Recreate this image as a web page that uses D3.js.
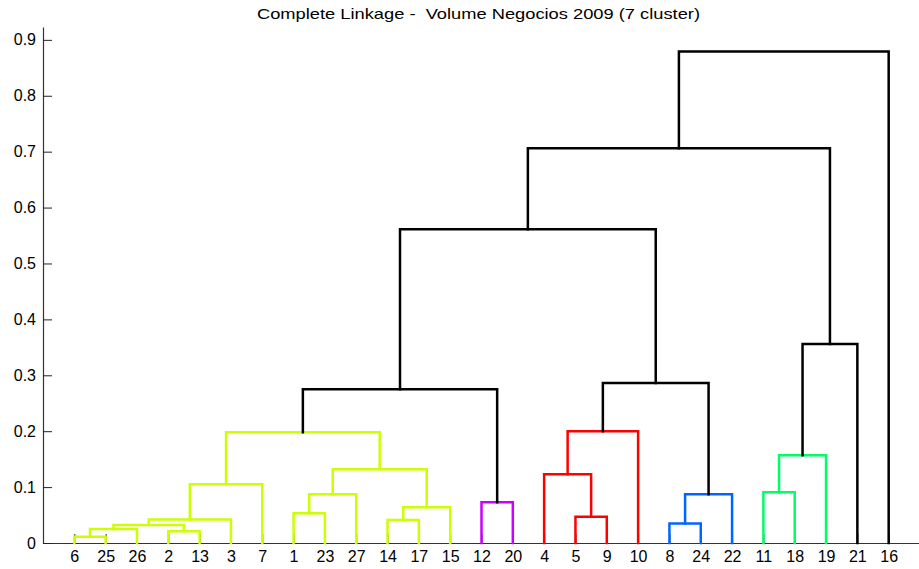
<!DOCTYPE html>
<html>
  <head>
    <meta http-equiv="Content-Type" content="text/html;charset=utf-8" />
    <title>Complete Linkage dendrogram</title>
    <script type="text/javascript" src="https://d3js.org/d3.v7.min.js"></script>
    <style>
      body { margin: 0; background: #fff; }
      text { font-family: "Liberation Sans", Arial, Helvetica, sans-serif; }
    </style>
  </head>
  <body>
    <div id="chart"></div>

    <script type="text/javascript">
      // leaf order along the x axis
      var leafOrder = [6, 25, 26, 2, 13, 3, 7, 1, 23, 27, 14, 17, 15, 12, 20, 4, 5, 9, 10, 8, 24, 22, 11, 18, 19, 21, 16];

      // merges: numbers = leaf labels, "cN" = result of merge N
      var mergeLeft = [6, 2, "c0", "c2", "c3", "c4", 14, 1, "c6", "c7", "c9", "c5", 12, "c11", 5, 4, "c15", 8, "c17", "c16", 11, "c20", "c21", "c13", "c23", "c24"];
      var mergeRight = [25, 13, 26, "c1", 3, 7, 17, 23, 15, 27, "c8", "c10", 20, "c12", 9, "c14", 10, 24, 22, "c18", 18, 19, 21, "c19", "c22", 16];
      var mergeHeight = [0.011, 0.021, 0.025, 0.032, 0.042, 0.105, 0.041, 0.053, 0.064, 0.087, 0.132, 0.198, 0.073, 0.275, 0.047, 0.123, 0.200, 0.035, 0.087, 0.286, 0.091, 0.157, 0.356, 0.561, 0.706, 0.879];
      var mergeGroup = ["a", "a", "a", "a", "a", "a", "a", "a", "a", "a", "a", "a", "b", "k", "c", "c", "c", "d", "d", "k", "e", "e", "k", "k", "k", "k"];

      var yTicks = [0, 0.1, 0.2, 0.3, 0.4, 0.5, 0.6, 0.7, 0.8, 0.9];
      var title = "Complete Linkage -  Volume Negocios 2009 (7 cluster)";

      var colors = { a: "#ccff00", b: "#cc00ff", c: "#ff0000", d: "#0066ff", e: "#00ff66", k: "#000000" };

      var W = 919, H = 569;
      var svg = d3.select("#chart").append("svg").attr("width", W).attr("height", H);

      var x = d3.scaleLinear().domain([0, leafOrder.length + 1]).range([43, 920]);
      var y = d3.scaleLinear().domain([0, 0.923]).range([543, 27]);

      // axes
      var yAxis = d3.axisLeft(y)
        .tickValues(yTicks)
        .tickFormat(d => String(d))
        .tickSizeInner(-9)
        .tickSizeOuter(0)
        .tickPadding(7);

      var xAxis = d3.axisBottom(x)
        .tickValues(leafOrder.map((d, i) => i + 1))
        .tickFormat((d, i) => leafOrder[i])
        .tickSizeInner(-9)
        .tickSizeOuter(0)
        .tickPadding(8);

      var gx = svg.append("g")
        .attr("transform", "translate(0," + y(0) + ")")
        .call(xAxis);
      var gy = svg.append("g")
        .attr("transform", "translate(" + x(0) + ",0)")
        .call(yAxis);

      [gx, gy].forEach(g => {
        g.select(".domain").attr("stroke", "#333").attr("stroke-width", 1.2);
        g.selectAll(".tick line").attr("stroke", "#222").attr("stroke-width", 1);
        g.selectAll(".tick text").attr("fill", "#000").style("font-size", "16px");
      });

      // node positions
      var pos = {};
      leafOrder.forEach((d, i) => { pos[d] = { x: x(i + 1), h: 0 }; });

      mergeLeft.forEach((l, i) => {
        var a = pos[l], b = pos[mergeRight[i]];
        var h = mergeHeight[i];
        var path = d3.path();
        path.moveTo(a.x, y(a.h));
        path.lineTo(a.x, y(h));
        path.lineTo(b.x, y(h));
        path.lineTo(b.x, y(b.h));
        svg.append("path")
          .attr("d", path.toString())
          .attr("fill", "none")
          .attr("stroke", colors[mergeGroup[i]])
          .attr("stroke-width", 2.5)
          .attr("stroke-linejoin", "miter")
          .attr("stroke-linecap", "square");
        pos["c" + i] = { x: (a.x + b.x) / 2, h: h };
      });

      svg.append("text")
        .attr("x", 478.5)
        .attr("y", 18.5)
        .attr("text-anchor", "middle")
        .attr("textLength", 443)
        .attr("lengthAdjust", "spacingAndGlyphs")
        .style("font-size", "15px")
        .style("white-space", "pre")
        .attr("fill", "#000")
        .text(title);
    </script>
  </body>
</html>
